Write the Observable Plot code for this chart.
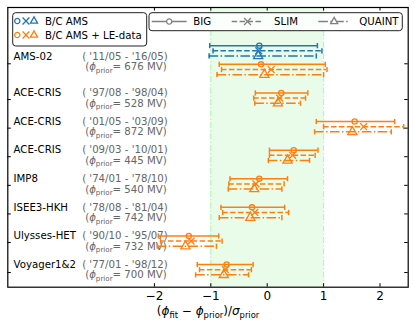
<!DOCTYPE html>
<html><head><meta charset="utf-8">
<script src="https://cdn.jsdelivr.net/npm/d3@7"></script>
<script src="https://cdn.jsdelivr.net/npm/@observablehq/plot@0.6"></script>
<style>body{margin:0;background:#fff}#chart{width:415px;height:328px}</style>
</head><body><div id="chart"></div>
<script>
// ---- data ----
const experiments = ["AMS-02","ACE-CRIS","ACE-CRIS","ACE-CRIS","IMP8","ISEE3-HKH","Ulysses-HET","Voyager1&2"];
const periods = ["( '11/05 - '16/05)","( '97/08 - '98/04)","( '01/05 - '03/09)","( '09/03 - '10/01)","( '74/01 - '78/10)","( '78/08 - '81/04)","( '90/10 - '95/07)","( '77/01 - '98/12)"];
const phiPrior = [676, 528, 872, 445, 540, 742, 732, 700];
const models = ["BIG","SLIM","QUAINT"];
const dataSets = ["B/C AMS","B/C AMS + LE-data"];
// B/C AMS + LE-data (all experiments)
const bigCenter = [-0.11, 0.25, 1.55, 0.47, -0.14, -0.27, -1.39, -0.72];
const bigLow    = [-0.85,-0.21, 0.87, 0.04, -0.66, -0.82, -1.93, -1.24];
const bigHigh   = [ 1.03, 0.72, 2.26, 0.90,  0.36,  0.31, -0.86, -0.25];
const slimCenter= [ 0.07, 0.22, 1.71, 0.45, -0.20, -0.22, -1.35, -0.74];
const slimLow   = [-0.81,-0.24, 1.00, 0.04, -0.68, -0.79, -1.89, -1.20];
const slimHigh  = [ 1.06, 0.68, 2.42, 0.85,  0.30,  0.38, -0.80, -0.28];
const quaintCenter=[-0.05,0.19, 1.51, 0.36, -0.23, -0.30, -1.45, -0.77];
const quaintLow = [-0.89,-0.22, 0.84, 0.02, -0.69, -0.85, -1.95, -1.27];
const quaintHigh= [ 1.00, 0.59, 2.20, 0.75,  0.26,  0.26, -0.90, -0.33];
// B/C AMS only (AMS-02 only), order BIG, SLIM, QUAINT
const amsCenter = [-0.14, -0.15, -0.16];
const amsLow    = [-1.02, -0.96, -1.03];
const amsHigh   = [ 0.89,  0.97,  0.87];
const priorBand = [[-1, 1]];
const xTicks = [-2, -1, 0, 1, 2];
const yTickRows = [-0.2, 1.05, 2.05, 3.05, 4.05, 5.05, 6.05, 7.1];

// ---- build table ----
const offs = [-0.18, 0, 0.18];
const leC = [bigCenter, slimCenter, quaintCenter], leL = [bigLow, slimLow, quaintLow], leH = [bigHigh, slimHigh, quaintHigh];
const rows = [];
models.forEach((m, k) => {
  rows.push({model: m, set: dataSets[0], y: -0.654 + offs[k], c: amsCenter[k], lo: amsLow[k], hi: amsHigh[k]});
  experiments.forEach((e, g) => rows.push({model: m, set: dataSets[1], y: g + offs[k], c: leC[k][g], lo: leL[k][g], hi: leH[k][g]}));
});
const labels = experiments.map((e, g) => ({name: e, period: periods[g], phi: `(ϕ_prior= ${phiPrior[g]} MV)`, y: g === 0 ? -0.455 : g - 0.18}));

const W = 415, H = 328, mL = 7.3, mR = 7.3, mT = 7, mB = 41.3;
const fw = W - mL - mR, fh = H - mT - mB;
const dashes = [null, "5.5,2.4", "9.6,2.4,1.5,2.4"];
const syms = ["circle", "times", "triangle"];
const symR = [2.6, 3.2, 3.4];
const cap = {draw(ctx, size) { const r = Math.sqrt(size / Math.PI); ctx.moveTo(0, -r); ctx.lineTo(0, r); }};

const marks = [
  Plot.barX(priorBand, {x1: d => d[0], x2: d => d[1], fill: "lightgreen", fillOpacity: 0.2}),
  Plot.ruleX(priorBand[0], {stroke: "lightgreen", strokeOpacity: 0.7, strokeWidth: 1, strokeDasharray: "6,2,1.5,2"}),
  Plot.text(labels, {y: "y", text: "name", frameAnchor: "left", dx: 5.7, textAnchor: "start", fill: "black"}),
  Plot.text(labels, {y: "y", text: "period", frameAnchor: "left", dx: 160, textAnchor: "end", fill: "#666"}),
  Plot.text(labels, {y: d => d.y + 0.367, text: "phi", frameAnchor: "left", dx: 159, textAnchor: "end", fill: "#666"})
];
models.forEach((m, k) => {
  const sub = rows.filter(d => d.model === m);
  marks.push(Plot.ruleY(sub, {x1: "lo", x2: "hi", y: "y", stroke: "set", strokeWidth: 1.5, strokeDasharray: dashes[k]}));
  marks.push(Plot.dot(sub, {x: "lo", y: "y", symbol: cap, r: 2.6, stroke: "set", strokeWidth: 1.5}));
  marks.push(Plot.dot(sub, {x: "hi", y: "y", symbol: cap, r: 2.6, stroke: "set", strokeWidth: 1.5}));
  marks.push(Plot.dot(sub, {x: "c", y: "y", symbol: syms[k], r: symR[k], stroke: "set", fill: "none", strokeWidth: 1.3}));
});
marks.push(
  Plot.ruleX(xTicks, {stroke: "black", insetTop: fh - 3.5}),
  Plot.ruleX(xTicks, {stroke: "black", insetBottom: fh - 3.5}),
  Plot.ruleY(yTickRows, {y: d => d, stroke: "black", insetLeft: fw - 3.5}),
  Plot.ruleY(yTickRows, {y: d => d, stroke: "black", insetRight: fw - 3.5}),
  Plot.axisX({ticks: xTicks, tickSize: 0, tickPadding: 4, fontSize: 12, label: null, fill: "black"}),
  Plot.text(["(ϕ_fit − ϕ_prior)/σ_prior"], {frameAnchor: "bottom", lineAnchor: "middle", dy: 24, fontSize: 12, fill: "black"}),
  Plot.frame({stroke: "black", strokeWidth: 1.2})
);

const svg = Plot.plot({
  width: W, height: H, marginLeft: mL, marginRight: mR, marginTop: mT, marginBottom: mB,
  style: {fontFamily: "DejaVu Sans", fontSize: "10.2px", background: "white", color: "black"},
  x: {domain: [-4.6, 2.5]},
  y: {domain: [-2.168, 7.612], reverse: true, axis: null},
  color: {domain: dataSets, range: ["#1f77b4", "#ff7f0e"]},
  marks
});
document.getElementById("chart").appendChild(svg);

// ---- math text (subscripts, italic greek) ----
function mathify(el) {
  const str = el.textContent;
  if (!/[_ϕσ]/.test(str)) return;
  const fs = parseFloat(getComputedStyle(el).fontSize) || 10.2;
  while (el.firstChild) el.removeChild(el.firstChild);
  const re = /(ϕ|σ)|_([a-z]+)/g;
  let last = 0, m, shifted = false;
  const add = (txt, attrs) => {
    const t = document.createElementNS("http://www.w3.org/2000/svg", "tspan");
    for (const k in attrs) t.setAttribute(k, attrs[k]);
    t.textContent = txt; el.appendChild(t);
  };
  const plain = (txt) => { if (!txt) return; const a = {}; if (shifted) { a.dy = -fs * 0.25; shifted = false; } add(txt, a); };
  while ((m = re.exec(str))) {
    plain(str.slice(last, m.index));
    if (m[1]) { const a = {"font-style": "italic"}; if (shifted) { a.dy = -fs * 0.25; shifted = false; } add(m[1], a); }
    else { add(m[2], {dy: fs * 0.25, "font-size": fs * 0.7}); shifted = true; }
    last = re.lastIndex;
  }
  plain(str.slice(last));
}
d3.select(svg).selectAll("text").each(function () { mathify(this); });

// ---- legends ----
const s = d3.select(svg);
const lg = s.append("g").attr("font-family", "DejaVu Sans").attr("font-size", 10.2).attr("text-anchor", "start").attr("fill", "black");
function symbolPath(name, r) {
  const t = {circle: d3.symbolCircle, times: d3.symbolTimes, triangle: d3.symbolTriangle2}[name];
  return d3.symbol(t, Math.PI * r * r)();
}
lg.append("rect").attr("x", 12.7).attr("y", 12.7).attr("width", 134).attr("height", 33.3).attr("rx", 3)
  .attr("fill", "white").attr("fill-opacity", 0.8).attr("stroke", "#222").attr("stroke-width", 1);
[["#1f77b4", 21], ["#ff7f0e", 35]].forEach(([col, yy], i) => {
  [[17.3, 0], [26, 1], [34, 2]].forEach(([xx, k]) => {
    lg.append("path").attr("d", symbolPath(syms[k], symR[k])).attr("transform", `translate(${xx},${yy})`)
      .attr("fill", "none").attr("stroke", col).attr("stroke-width", 1.3);
  });
  lg.append("text").attr("x", 45).attr("y", yy).attr("dy", "0.35em").text(dataSets[i]);
});
lg.append("rect").attr("x", 149).attr("y", 12.7).attr("width", 253.3).attr("height", 18).attr("rx", 3)
  .attr("fill", "white").attr("fill-opacity", 0.8).attr("stroke", "#222").attr("stroke-width", 1);
[[151.7, 186.7, 193.3], [231.7, 263.3, 274], [318.3, 350, 359.3]].forEach(([a, b, tx], k) => {
  const yy = 21.5;
  lg.append("line").attr("x1", a).attr("x2", b).attr("y1", yy).attr("y2", yy).attr("stroke", "#808080")
    .attr("stroke-width", 1.5).attr("stroke-dasharray", dashes[k]);
  lg.append("path").attr("d", symbolPath(syms[k], symR[k])).attr("transform", `translate(${(a + b) / 2},${yy})`)
    .attr("fill", "white").attr("stroke", "#808080").attr("stroke-width", 1.3);
  lg.append("text").attr("x", tx).attr("y", yy).attr("dy", "0.35em").text(models[k]);
});
</script></body></html>
